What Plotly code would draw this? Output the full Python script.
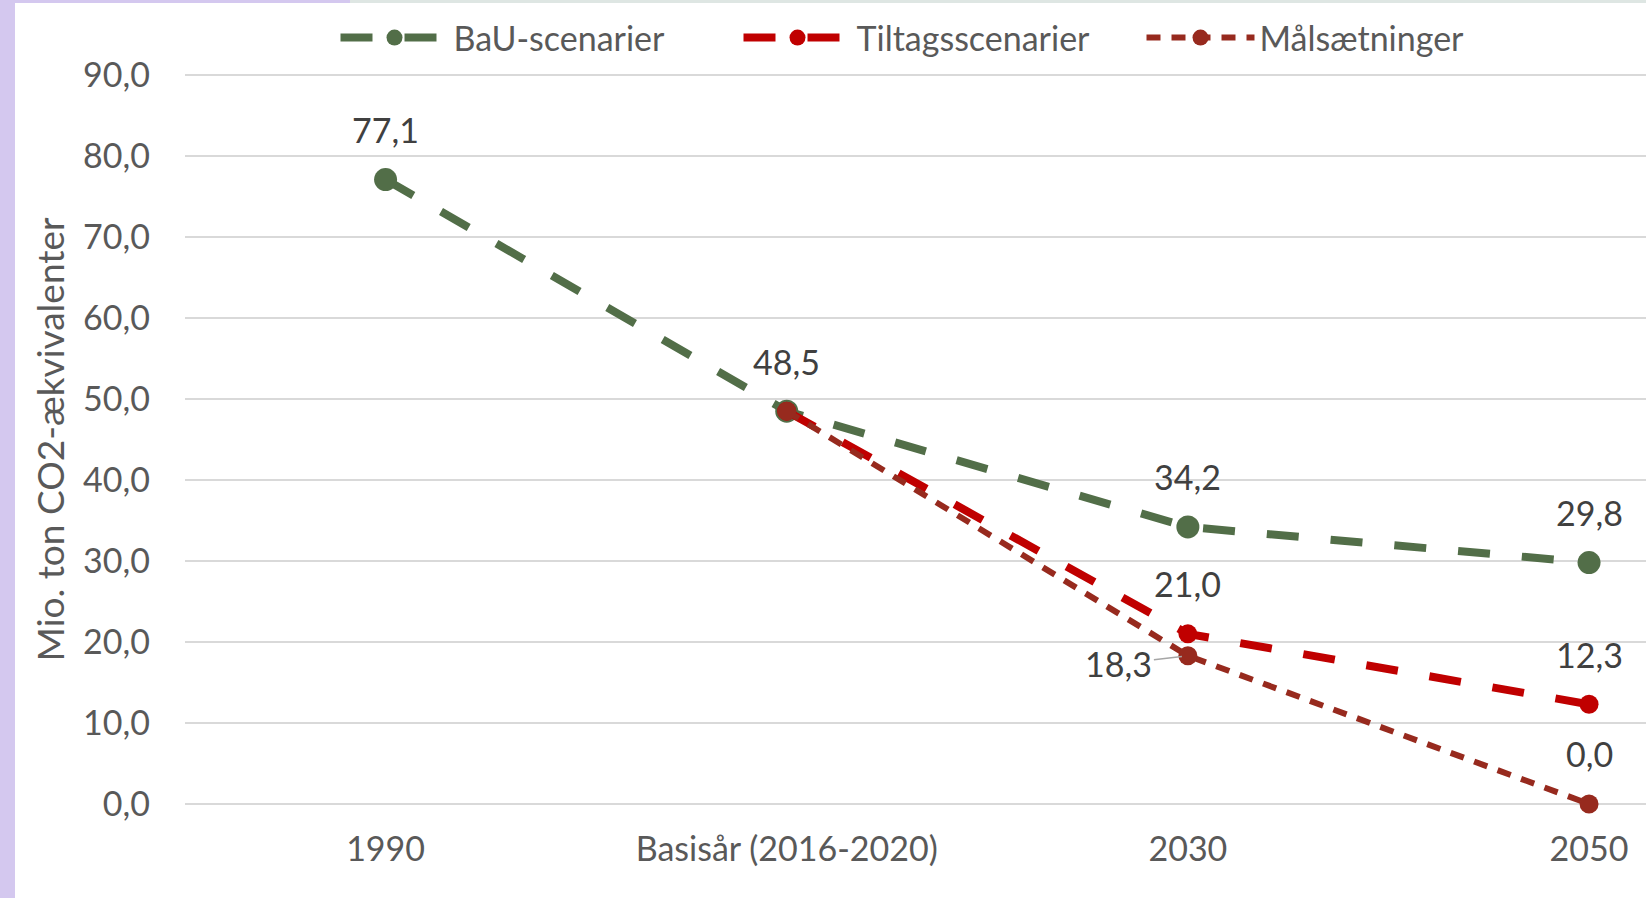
import plotly.graph_objects as go

categories = ["1990", "Basisår (2016-2020)", "2030", "2050"]
bau = [77.1, 48.5, 34.2, 29.8]
tiltag = [None, 48.5, 21.0, 12.3]
maal = [None, 48.5, 18.3, 0.0]

bau_show = [True, True, True, True]
tiltag_show = [False, False, True, True]
maal_show = [False, False, "left", True]

y_ticks = [0, 10, 20, 30, 40, 50, 60, 70, 80, 90]
y_title = "Mio. ton CO2-ækvivalenter"

FONT = "Lato"
FS = 34
GREEN = "#526E48"
RED = "#C00000"
BROWN = "#972A1E"
TXT = "#595959"
LBL = "#404040"

W, H = 1646, 898
ML, MR, MT, MB = 185, 0, 71, 90

def fmt(v):
    return f"{v:.1f}".replace(".", ",")

fig = go.Figure()
fig.add_trace(go.Scatter(x=categories, y=bau, name="BaU-scenarier", mode="lines+markers",
                         line=dict(color=GREEN, width=8, dash="32px,32px"),
                         marker=dict(color=GREEN, size=23), cliponaxis=False))
fig.add_trace(go.Scatter(x=categories, y=tiltag, name="Tiltagsscenarier", mode="lines+markers",
                         line=dict(color=RED, width=8, dash="32px,32px"),
                         marker=dict(color=RED, size=19), cliponaxis=False))
fig.add_trace(go.Scatter(x=categories, y=maal, name="Målsætninger", mode="lines+markers",
                         line=dict(color=BROWN, width=6, dash="14px,11px"),
                         marker=dict(color=BROWN, size=19), cliponaxis=False))

annotations = []
for vals, show in [(bau, bau_show), (tiltag, tiltag_show), (maal, maal_show)]:
    for i, (v, s) in enumerate(zip(vals, show)):
        if v is None or not s:
            continue
        if s == "left":
            annotations.append(dict(x=i, y=v, xref="x", yref="y", text=fmt(v), showarrow=True,
                                    ax=-69, ay=8, arrowhead=0, arrowwidth=1.5,
                                    arrowcolor="#A6A6A6", standoff=6,
                                    font=dict(family=FONT, size=FS, color=LBL)))
        else:
            annotations.append(dict(x=i, y=v, xref="x", yref="y", text=fmt(v), showarrow=False,
                                    yshift=50, xanchor="center", yanchor="middle",
                                    font=dict(family=FONT, size=FS, color=LBL)))

pw = W - ML - MR
ph = H - MT - MB
def px(xp):
    return (xp - ML) / pw
def py(yp):
    return 1 - (yp - MT) / ph

shapes = [
    dict(type="rect", xref="paper", yref="paper", x0=px(0), x1=px(15), y0=py(H), y1=py(0),
         fillcolor="#D4C8EF", line_width=0, layer="below"),
    dict(type="rect", xref="paper", yref="paper", x0=px(0), x1=px(350), y0=py(3), y1=py(0),
         fillcolor="#D4C8EF", line_width=0, layer="below"),
    dict(type="rect", xref="paper", yref="paper", x0=px(350), x1=px(W), y0=py(3), y1=py(0),
         fillcolor="#DEE6E3", line_width=0, layer="below"),
]

fig.update_layout(
    width=W, height=H,
    margin=dict(l=ML, r=MR, t=MT, b=MB, pad=0, autoexpand=False),
    paper_bgcolor="white", plot_bgcolor="white",
    font=dict(family=FONT, size=FS, color=TXT),
    showlegend=True,
    legend=dict(orientation="h", x=px(940), xanchor="center", y=py(38), yanchor="middle",
                font=dict(family=FONT, size=FS, color=TXT), itemwidth=108,
                entrywidth=280, entrywidthmode="pixels",
                bgcolor="rgba(0,0,0,0)"),
    annotations=annotations,
    shapes=shapes,
)
fig.update_xaxes(type="category", range=[-0.5, 3.142], showgrid=False, zeroline=False,
                 showline=False, ticks="", ticklabelstandoff=18,
                 tickfont=dict(family=FONT, size=FS, color=TXT))
fig.update_yaxes(range=[-0.5, 90.5], tickvals=y_ticks, ticktext=[fmt(v) for v in y_ticks],
                 showgrid=True, gridcolor="#D9D9D9", gridwidth=2, zeroline=False,
                 showline=False, ticks="", ticklabelstandoff=34,
                 tickfont=dict(family=FONT, size=FS, color=TXT),
                 title=dict(text=y_title, standoff=7, font=dict(family=FONT, size=37, color=TXT)))

fig.write_html("out.html", config={"displayModeBar": False},
               post_script="document.body.style.margin='0';")
